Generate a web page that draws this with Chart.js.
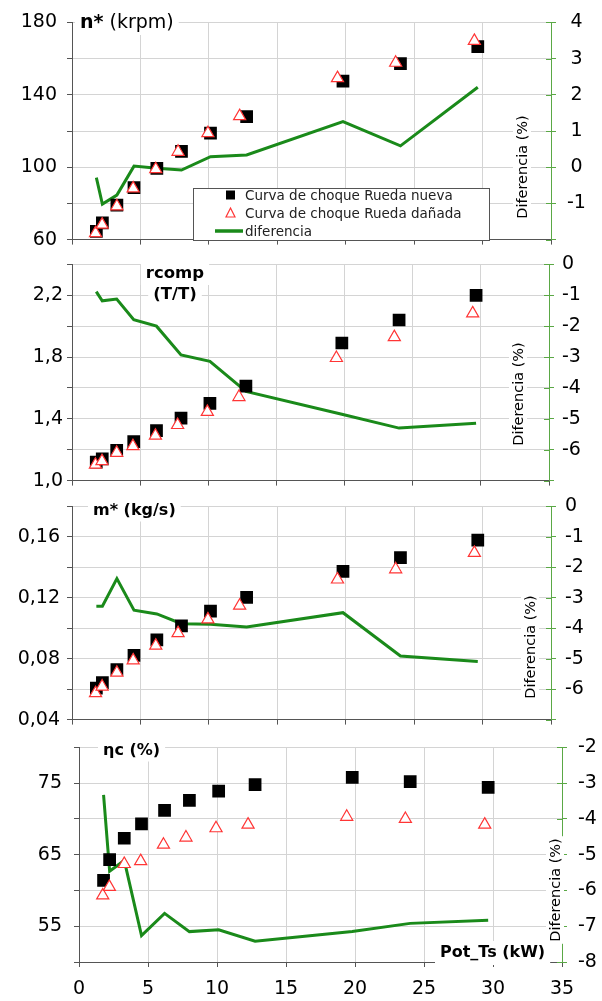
<!DOCTYPE html>
<html>
<head>
<meta charset="utf-8">
<script src="https://cdn.jsdelivr.net/npm/chart.js@4.4.0/dist/chart.umd.min.js"></script>
<style>
  body { margin: 0; background: #fff; }
  #wrap { position: relative; width: 602px; height: 1001px; overflow: hidden; }
  canvas { position: absolute; left: 0; }
</style>
</head>
<body>
<div id="wrap">
  <canvas id="c1" width="602" height="262" style="top:0px"></canvas>
  <canvas id="c2" width="602" height="255" style="top:245px"></canvas>
  <canvas id="c3" width="602" height="254" style="top:486px"></canvas>
  <canvas id="c4" width="602" height="277" style="top:724px"></canvas>
</div>
<script>
// Potencia (kW) de cada punto
const potNueva  = [1.78, 2.22, 3.28, 4.53, 6.2, 8.0, 10.12, 12.76, 19.8, 24.0, 29.65];
const potDanada = [1.72, 2.2, 3.28, 4.47, 6.12, 7.75, 9.93, 12.25, 19.4, 23.65, 29.4];

// n* (krpm)
const nNueva  = [64.5, 69.2, 79, 88.7, 99.3, 108.7, 118.8, 128, 147.6, 157.2, 166.6];
const nDanada = [63.6, 68.3, 78.4, 88.3, 98.9, 108.5, 118.8, 128.2, 149.2, 157.7, 169.8];
const nDif    = [-0.29, -1.02, -0.77, 0.03, -0.03, -0.08, 0.29, 0.34, 1.26, 0.59, 2.21];

// rcomp (T/T)
const rNueva  = [1.12, 1.141, 1.195, 1.252, 1.323, 1.405, 1.50, 1.612, 1.891, 2.04, 2.20];
const rDanada = [1.103, 1.126, 1.18, 1.223, 1.291, 1.36, 1.445, 1.541, 1.794, 1.929, 2.083];
const rDif    = [-0.88, -1.18, -1.12, -1.79, -2.0, -2.93, -3.14, -4.11, -4.85, -5.30, -5.14];

// m* (kg/s)
const mNueva  = [0.0606, 0.0643, 0.0729, 0.0821, 0.0923, 0.1015, 0.1112, 0.1202, 0.1374, 0.1463, 0.1579];
const mDanada = [0.0574, 0.0617, 0.0708, 0.0789, 0.0886, 0.0968, 0.1058, 0.1148, 0.132, 0.1387, 0.1495];
const mDif    = [-3.28, -3.28, -2.37, -3.41, -3.53, -3.85, -3.87, -3.96, -3.49, -4.91, -5.09];

// rendimiento ηc (%)
const eNueva  = [61.4, 64.3, 67.3, 69.3, 71.2, 72.6, 73.9, 74.8, 75.8, 75.2, 74.4];
const eDanada = [59.3, 60.5, 63.7, 64.1, 66.4, 67.4, 68.7, 69.2, 70.3, 70.0, 69.2];
const eDif    = [-3.33, -5.46, -5.16, -7.26, -6.64, -7.15, -7.10, -7.42, -7.15, -6.92, -6.83];

// etiquetas de los ejes
const ticksN = [60, 100, 140, 180];
const ticksR = [1.0, 1.4, 1.8, 2.2];
const ticksM = [0.04, 0.08, 0.12, 0.16];
const ticksE = [55, 65, 75];
const difTicks1 = [-1, 0, 1, 2, 3, 4];
const difTicks2 = [-6, -5, -4, -3, -2, -1, 0];
const difTicks3 = [-6, -5, -4, -3, -2, -1, 0];
const difTicks4 = [-8, -7, -6, -5, -4, -3, -2];
const leyenda = ['Curva de choque Rueda nueva', 'Curva de choque Rueda dañada', 'diferencia'];

const fam = "'DejaVu Sans', sans-serif";
const verde = '#1a8a1a';
const verdeEje = '#5aa845';
const rojo = '#ff3535';
const gris = '#d4d4d4';
const ejeColor = '#555';

function fmt(v, dec) { return v.toFixed(dec).replace('.', ','); }
function has(arr, v) { return arr.some(a => Math.abs(a - v) < 1e-9); }
function zip(xs, ys) { return xs.map((x, i) => ({ x: x, y: ys[i] })); }

// Dibuja titulos, etiqueta "Diferencia (%)", leyenda y marcas del eje derecho
const deco = {
    id: 'deco',
    afterDraw(chart, args, o) {
        const ctx = chart.ctx, a = chart.chartArea;
        ctx.save();
        const s2 = chart.scales.y2;
        ctx.strokeStyle = verdeEje;
        ctx.lineWidth = 1;
        s2.ticks.forEach(t => {
            const y = Math.round(s2.getPixelForValue(t.value)) + 0.5;
            ctx.beginPath(); ctx.moveTo(a.right - 5, y); ctx.lineTo(a.right, y); ctx.stroke();
        });
        ctx.translate(0, -o.top);
        ctx.textBaseline = 'middle';

        o.titles.forEach(tt => {
            let w = 0;
            tt.segs.forEach(s => { ctx.font = s.f; w += ctx.measureText(s.t).width; });
            let x0 = tt.center ? tt.x - w / 2 : tt.x;
            ctx.fillStyle = '#fff';
            ctx.fillRect(x0 - 5, tt.y - tt.h / 2, w + 10, tt.h);
            ctx.fillStyle = '#000';
            ctx.textAlign = 'left';
            tt.segs.forEach(s => {
                ctx.font = s.f;
                ctx.fillText(s.t, x0, tt.y);
                x0 += ctx.measureText(s.t).width;
            });
        });

        // etiqueta del eje secundario
        ctx.font = '14.5px ' + fam;
        const txt = 'Diferencia (%)';
        const tw = ctx.measureText(txt).width;
        ctx.translate(o.difPos[0], o.difPos[1]);
        ctx.rotate(-Math.PI / 2);
        ctx.fillStyle = '#fff';
        ctx.fillRect(-tw / 2 - 2, -9, tw + 4, 18);
        ctx.fillStyle = '#000';
        ctx.textAlign = 'center';
        ctx.fillText(txt, 0, 1);
        ctx.setTransform(1, 0, 0, 1, 0, 0);
        ctx.translate(0, -o.top);

        if (o.legend) {
            ctx.fillStyle = '#fff';
            ctx.fillRect(193, 188, 296, 52);
            ctx.strokeStyle = ejeColor;
            ctx.lineWidth = 1;
            ctx.strokeRect(193.5, 188.5, 296, 52);
            const rows = [195, 213, 231];
            // cuadrado
            ctx.fillStyle = '#000';
            ctx.fillRect(226, rows[0] - 4.5, 9, 9);
            // triangulo
            ctx.beginPath();
            ctx.moveTo(230.5, rows[1] - 5); ctx.lineTo(235, rows[1] + 4); ctx.lineTo(226, rows[1] + 4); ctx.closePath();
            ctx.fillStyle = '#fff'; ctx.fill();
            ctx.strokeStyle = rojo; ctx.lineWidth = 1.2; ctx.stroke();
            // linea
            ctx.beginPath(); ctx.moveTo(215, rows[2]); ctx.lineTo(243, rows[2]);
            ctx.strokeStyle = verde; ctx.lineWidth = 3.5; ctx.stroke();
            ctx.fillStyle = '#222';
            ctx.font = '13.5px ' + fam;
            ctx.textAlign = 'left';
            leyenda.forEach((l, i) => ctx.fillText(l, 245, rows[i] + 1));
        }
        ctx.restore();
    }
};

const panels = [
    { id: 'c1', top: 0, height: 262, area: { left: 72, right: 551, top: 18, bottom: 244 },
      nuevo: nNueva, danada: nDanada, dif: nDif,
      yMin: 60, yMax: 180, yStep: 20, yLabels: ticksN, yDec: 0, lPad: 10,
      y2Min: -2, y2Max: 4, y2Labels: difTicks1, rPad: 11, rAlign: 'center',
      xLabels: false, difPos: [522, 167], legend: true,
      titles: [{ x: 80, y: 23, h: 24, segs: [{ t: 'n*', f: 'bold 19px ' + fam }, { t: ' (krpm)', f: '19px ' + fam }] }] },
    { id: 'c2', top: 245, height: 255, area: { left: 72, right: 549, top: 264, bottom: 482 },
      nuevo: rNueva, danada: rDanada, dif: rDif,
      yMin: 1.0, yMax: 2.4, yStep: 0.2, yLabels: ticksR, yDec: 1, lPad: 4,
      y2Min: -7, y2Max: 0, y2Labels: difTicks2, rPad: 8, rAlign: 'near',
      xLabels: false, difPos: [518, 394], legend: false,
      titles: [
          { x: 175, y: 274, h: 22, center: true, segs: [{ t: 'rcomp', f: 'bold 16.5px ' + fam }] },
          { x: 175, y: 295, h: 20, center: true, segs: [{ t: '(T/T)', f: 'bold 16.5px ' + fam }] }] },
    { id: 'c3', top: 486, height: 254, area: { left: 72, right: 551, top: 505, bottom: 722 },
      nuevo: mNueva, danada: mDanada, dif: mDif,
      yMin: 0.04, yMax: 0.18, yStep: 0.02, yLabels: ticksM, yDec: 2, lPad: 7,
      y2Min: -7, y2Max: 0, y2Labels: difTicks3, rPad: 9, rAlign: 'near',
      xLabels: false, difPos: [530, 647], legend: false,
      titles: [{ x: 93, y: 511, h: 21, segs: [{ t: 'm* (kg/s)', f: 'bold 16px ' + fam }] }] },
    { id: 'c4', top: 724, height: 277, area: { left: 79, right: 562, top: 743, bottom: 962 },
      nuevo: eNueva, danada: eDanada, dif: eDif,
      yMin: 50, yMax: 80, yStep: 5, yLabels: ticksE, yDec: 0, lPad: 12,
      y2Min: -8, y2Max: -2, y2Labels: difTicks4, rPad: 11, rAlign: 'near',
      xLabels: true, difPos: [555, 890], legend: false,
      titles: [
          { x: 103, y: 751, h: 21, segs: [{ t: 'ηc (%)', f: 'bold 16px ' + fam }] },
          { x: 440, y: 953, h: 24, segs: [{ t: 'Pot_Ts (kW)', f: 'bold 16px ' + fam }] }] }
];

const tickFont = { family: fam, size: 19 };

panels.forEach(p => {
    new Chart(document.getElementById(p.id), {
        type: 'scatter',
        data: {
            datasets: [
                { label: leyenda[1], data: zip(potDanada, p.danada), yAxisID: 'y', order: 0,
                  pointStyle: 'triangle', pointRadius: 7, pointBackgroundColor: '#fff',
                  pointBorderColor: rojo, pointBorderWidth: 1.2 },
                { label: leyenda[0], data: zip(potNueva, p.nuevo), yAxisID: 'y', order: 1,
                  pointStyle: 'rect', pointRadius: 9, pointBackgroundColor: '#000',
                  pointBorderColor: '#000', pointBorderWidth: 0 },
                { label: leyenda[2], data: zip(potNueva, p.dif), yAxisID: 'y2', order: 2,
                  showLine: true, borderColor: verde, borderWidth: 3, pointRadius: 0, tension: 0 }
            ]
        },
        options: {
            responsive: false,
            animation: false,
            devicePixelRatio: 1,
            layout: { padding: { top: p.area.top - p.top, left: 0, right: 0, bottom: 0 } },
            plugins: { legend: { display: false }, tooltip: { enabled: false }, deco: p },
            scales: {
                x: {
                    type: 'linear', min: 0, max: 35,
                    ticks: { stepSize: 5, display: p.xLabels, font: tickFont, color: '#000', padding: 11, maxRotation: 0 },
                    grid: { color: gris, tickLength: 5, tickColor: ejeColor },
                    border: { color: ejeColor },
                    afterFit: s => { s.height = p.top + p.height - p.area.bottom; }
                },
                y: {
                    position: 'left', min: p.yMin, max: p.yMax,
                    ticks: { stepSize: p.yStep, autoSkip: false, font: tickFont, color: '#000', padding: p.lPad,
                             callback: v => has(p.yLabels, v) ? fmt(v, p.yDec) : '' },
                    grid: { color: gris, tickLength: 5, tickColor: ejeColor },
                    border: { color: ejeColor },
                    afterFit: s => { s.width = p.area.left; }
                },
                y2: {
                    position: 'right', min: p.y2Min, max: p.y2Max,
                    ticks: { stepSize: 1, autoSkip: false, font: tickFont, color: '#000', padding: p.rPad,
                             crossAlign: p.rAlign,
                             callback: v => has(p.y2Labels, v) ? String(Math.round(v)) : '' },
                    grid: { drawOnChartArea: false, tickLength: 5, tickColor: verdeEje },
                    border: { color: verdeEje },
                    afterFit: s => { s.width = 602 - p.area.right; }
                }
            }
        },
        plugins: [deco]
    });
});
</script>
</body>
</html>
